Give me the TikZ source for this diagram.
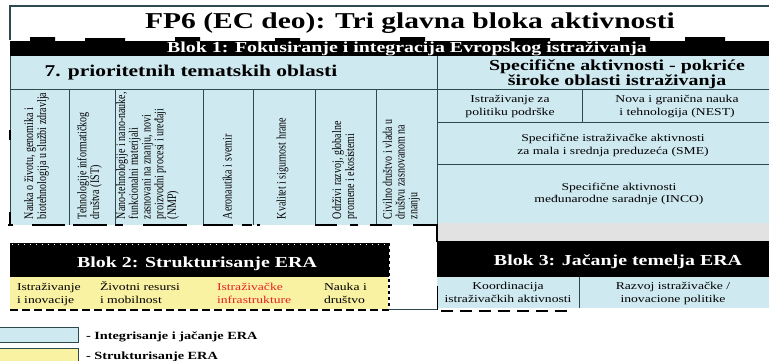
\documentclass[tikz,border=0pt]{standalone}
\usepackage{graphicx}
\usepackage{fontspec}
\setmainfont{Liberation Serif}
\definecolor{lblue}{RGB}{207,233,240}
\definecolor{lyel}{RGB}{249,242,162}
\definecolor{bord}{RGB}{45,75,78}
\definecolor{gry}{RGB}{226,226,226}
\definecolor{ired}{RGB}{232,32,36}
\newcommand\tlines[2][c]{\begin{tabular}[t]{@{}#1@{}}#2\end{tabular}}
\newcommand\ctext[1]{\scalebox{1}[1.3]{\tlines[l]{#1}}}
\tikzset{
 every node/.append style={inner sep=0pt, outer sep=0pt},
 hs/.style={xscale=1.3},
 ttl/.style={hs, anchor=base, font=\fontsize{22.7}{26}\selectfont\bfseries},
 blk/.style={hs, anchor=base, text=white, font=\fontsize{15.3}{18}\selectfont\bfseries},
 hdr/.style={hs, anchor=base, font=\fontsize{15.3}{15}\selectfont\bfseries},
 coltext/.style={rotate=90, anchor=west, font=\fontsize{10}{9.7}\selectfont},
 cell/.style={hs, anchor=base, font=\fontsize{10.5}{#1}\selectfont},
 cell/.default=13,
 leg/.style={hs, anchor=base west, font=\fontsize{11}{13}\selectfont\bfseries},
 bline/.style={draw=bord, line width=0.9pt},
 blkdash/.style={line width=2.3pt, black},
}
\begin{document}
\begin{tikzpicture}[x=1pt,y=-1pt]
\useasboundingbox (0,0) rectangle (769,360);
% top frame
\draw[bord, line width=1.2pt] (10,40) -- (10,6) -- (769,6);
\node[ttl] (title) at (410,28) {FP6 (EC deo): Tri glavna bloka aktivnosti};
% Blok 1 band
\fill[black] (10,56) -- (10,41) -- (30,41) -- (30,37) -- (55,37) -- (55,41) -- (85,41) -- (85,38) -- (125,38) -- (125,41) -- (175,41) -- (175,37) -- (200,37) -- (200,41) -- (275,41) -- (275,38) -- (300,38) -- (300,41) -- (400,41) -- (400,37) -- (425,37) -- (425,41) -- (510,41) -- (510,38) -- (550,38) -- (550,41) -- (620,41) -- (620,37) -- (650,37) -- (650,41) -- (685,41) -- (685,37) -- (725,37) -- (725,41) -- (769,41) -- (769,56) -- cycle;
\node[blk] (b1) at (407,52) {Blok 1: Fokusiranje i integracija Evropskog istraživanja};
% blue areas
\fill[lblue] (10,56) rectangle (437,225);
\fill[lblue] (437,56) rectangle (769,223);
\fill[gry] (437,223) rectangle (769,241);
% grid lines
\draw[bline] (10,56) -- (10,225);
\draw[bline] (10,89) -- (769,89);
\draw[bline] (437,56) -- (437,225);
\foreach \x in {69,115,203,253,315,376} \draw[bline] (\x,89) -- (\x,225);
\draw[bline] (582,89) -- (582,122);
\draw[bline] (437,122) -- (769,122);
\draw[bline] (437,164) -- (769,164);
% column bottom dashes
\foreach \a/\b in {8/13,32/65,73/107,115/123,143/187,203/233,242/252,257/260,315/337,350/358,370/392,413/437}
  \draw[blkdash] (\a,225) -- (\b,225);
\draw[blkdash] (10,212) -- (10,226);
\draw[blkdash] (10,130) -- (10,140);
\draw[blkdash] (437,224) -- (437,242);
% headers
\node[hdr, font=\fontsize{16.5}{15}\selectfont\bfseries] (h7) at (191,76) {7. prioritetnih tematskih oblasti};
\node[hdr] (hs) at (617,70) {\tlines{Specifične aktivnosti - pokriće\\široke oblasti istraživanja}};
% columns
\node[coltext] (c1) at (37,219) {\ctext{Nauka o životu, genomika i\\biotehnologija u službi zdravlja}};
\node[coltext] (c2) at (90,219) {\ctext{Tehnologije informatičkog\\društva (IST)}};
\node[coltext] (c3) at (148,219) {\ctext{Nano-tehnologije i nano-nauke,\\funkcionalni materijali\\zasnovani na znanju, novi\\proizvodni procesi i uređaji\\(NMP)}};
\node[coltext] (c4) at (229,219) {\ctext{Aeronautika i svemir}};
\node[coltext] (c5) at (283,219) {\ctext{Kvalitet i sigurnost hrane}};
\node[coltext] (c6) at (345,219) {\ctext{Održivi razvoj, globalne\\promene i ekosistemi}};
\node[coltext] (c7) at (402,219) {\ctext{Civilno društvo i vlada u\\društvu zasnovanom na\\znanju}};
% right cells
\node[cell=13] (r1) at (510,102) {\tlines{Istraživanje za\\politiku podrške}};
\node[cell=13] (r2) at (677,102) {\tlines{Nova i granična nauka\\i tehnologija (NEST)}};
\node[cell] (r3) at (613,141) {\tlines{Specifične istraživačke aktivnosti\\za mala i srednja preduzeća (SME)}};
\node[cell=12] (r4) at (619,190) {\tlines{Specifične aktivnosti\\međunarodne saradnje (INCO)}};
% Blok 2
\fill[black] (10,243) rectangle (389,277);
\draw[white, line width=0.8pt, dash pattern=on 1pt off 5pt] (12,244) -- (387,244);
\fill[lyel] (10,277) rectangle (388,309);
\draw[line width=2.4pt, dash pattern=on 8pt off 4pt] (10,310) -- (389,310);
\draw[line width=2pt, dash pattern=on 3pt off 3pt] (389,243) -- (389,310);
\draw[bord, line width=0.8pt] (389,309) -- (437,309);
\node[blk] (b2) at (197,267) {Blok 2: Strukturisanje ERA};
\node[cell, anchor=base west] (y1) at (17,290) {\tlines[l]{Istraživanje\\i inovacije}};
\node[cell, anchor=base west] (y2) at (100,290) {\tlines[l]{Životni resursi\\i mobilnost}};
\node[cell, anchor=base west, text=ired] (y3) at (217,290) {\tlines[l]{Istraživačke\\infrastrukture}};
\node[cell, anchor=base west] (y4) at (324,290) {\tlines[l]{Nauka i\\društvo}};
% Blok 3
\fill[black] (437,241) rectangle (769,277);
\fill[lblue] (437,277) rectangle (769,308);
\draw[bord, line width=0.9pt] (579,277) -- (579,308);
\draw[black, line width=0.9pt] (437,286) -- (437,310);
\draw[line width=2.4pt, dash pattern=on 12pt off 7pt] (441,311) -- (573,311);
\node[blk] (b3) at (618,265) {Blok 3: Jačanje temelja ERA};
\node[cell] (k1) at (508,289) {\tlines{Koordinacija\\istraživačkih aktivnosti}};
\node[cell] (k2) at (673,289) {\tlines{Razvoj istraživačke /\\inovacione politike}};
% legend
\draw[bord, fill=lblue, line width=0.9pt] (-2,327) rectangle (78,342);
\draw[bord, fill=lyel, line width=0.9pt] (-2,348) rectangle (78,365);
\node[leg] (l1) at (86,339) {- Integrisanje i jačanje ERA};
\node[leg] (l2) at (86,359) {- Strukturisanje ERA};
\end{tikzpicture}
\end{document}
